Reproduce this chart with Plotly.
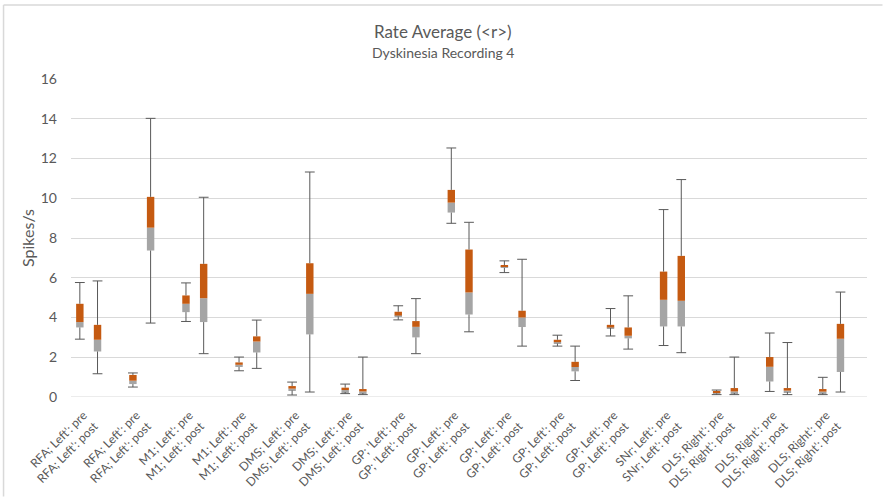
import plotly.graph_objects as go

groups = ["RFA; Left'", "RFA; Left'", "M1; Left'", "M1; Left'", "DMS; Left'", "DMS; Left'",
          "GP; 'Left'", "GP; Left'", "GP; Left'", "GP; Left'", "GP; Left'", "SNr; Left'",
          "DLS; Right'", "DLS; Right'", "DLS; Right'"]
conditions = ["pre", "post"]

mins = [2.91, 1.17, 0.50, 3.72, 3.80, 2.18, 1.32, 1.44, 0.10, 0.25, 0.17, 0.12, 3.88, 2.18, 8.74,
        3.28, 6.26, 2.56, 2.56, 0.83, 3.07, 2.41, 2.59, 2.23, 0.12, 0.12, 0.28, 0.12, 0.12, 0.25]
q1s = [3.50, 2.29, 0.65, 7.37, 4.27, 3.77, 1.51, 2.24, 0.33, 3.15, 0.25, 0.20, 4.05, 3.00, 9.28,
       4.15, 6.50, 3.52, 2.69, 1.29, 3.47, 2.95, 3.55, 3.55, 0.18, 0.20, 0.78, 0.25, 0.20, 1.26]
meds = [3.77, 2.88, 0.82, 8.52, 4.69, 4.97, 1.62, 2.79, 0.42, 5.19, 0.35, 0.28, 4.10, 3.53, 9.78,
        5.26, 6.56, 4.00, 2.76, 1.51, 3.50, 3.08, 4.89, 4.84, 0.24, 0.28, 1.52, 0.32, 0.27, 2.93]
q3s = [4.69, 3.63, 1.11, 10.07, 5.11, 6.70, 1.74, 3.05, 0.55, 6.73, 0.47, 0.40, 4.29, 3.82, 10.42,
       7.42, 6.63, 4.34, 2.88, 1.77, 3.63, 3.50, 6.31, 7.10, 0.30, 0.45, 2.01, 0.45, 0.40, 3.68]
maxs = [5.76, 5.84, 1.21, 14.02, 5.74, 10.05, 2.01, 3.87, 0.75, 11.32, 0.65, 2.01, 4.59, 4.95, 12.53,
        8.79, 6.85, 6.93, 3.11, 2.56, 4.45, 5.09, 9.43, 10.94, 0.35, 2.01, 3.22, 2.74, 0.99, 5.28]

ORANGE = "#c55a11"
GRAY = "#a5a5a5"
WHISK = "#595959"
TXT = "#595959"
GRID = "#d9d9d9"

# positions: three slots per category (pre, post, empty)
xs = []
for gi in range(len(groups)):
    for ci in range(len(conditions)):
        xs.append(3 * gi + ci)

tickvals = [3 * gi + 0.2 for gi in range(len(groups))]
ticktext = [f"{g}: {conditions[0]}<br>{g}: {conditions[1]}" for g in groups]

wx, wy = [], []
for x, lo, a, b, hi in zip(xs, mins, q1s, q3s, maxs):
    wx += [x, x, None, x, x, None]
    wy += [lo, a, None, b, hi, None]

fig = go.Figure()
fig.add_trace(go.Scatter(x=wx, y=wy, mode="lines", line=dict(color=WHISK, width=1),
                         hoverinfo="skip", showlegend=False))
fig.add_trace(go.Scatter(x=xs + xs, y=mins + maxs, mode="markers",
                         marker=dict(symbol="line-ew", size=7, line=dict(color=WHISK, width=1)),
                         hoverinfo="skip", showlegend=False))
fig.add_trace(go.Bar(x=xs, base=q1s, y=[m - q for m, q in zip(meds, q1s)], width=0.42,
                     marker=dict(color=GRAY, line=dict(width=0)), showlegend=False))
fig.add_trace(go.Bar(x=xs, base=meds, y=[q - m for q, m in zip(q3s, meds)], width=0.42,
                     marker=dict(color=ORANGE, line=dict(width=0)), showlegend=False))

L, R, T, B = 71, 15.5, 79, 99.7
W, H = 883, 497
pw = W - L - R
ph = H - T - B

fig.update_layout(
    width=W, height=H,
    margin=dict(l=L, r=R, t=T, b=B, autoexpand=False),
    paper_bgcolor="white", plot_bgcolor="white",
    barmode="overlay",
    font=dict(family="Lato", color=TXT, size=12),
    xaxis=dict(range=[-0.5, 3 * len(groups) - 0.5], tickvals=tickvals, ticktext=ticktext,
               tickangle=-45, showgrid=False, zeroline=False, showline=False,
               ticklabelstandoff=8, automargin=False,
               tickfont=dict(size=12, color=TXT), fixedrange=True),
    yaxis=dict(range=[0, 16], dtick=2, showgrid=True, gridcolor=GRID, gridwidth=1,
               zeroline=False, showline=False, tickfont=dict(size=14, color=TXT),
               ticklabelstandoff=13, automargin=False,
               title=dict(text="Spikes/s", font=dict(size=16, color=TXT), standoff=2)),
    annotations=[
        dict(text="Rate Average (&lt;r&gt;)", xref="paper", yref="paper",
             x=(443 - L) / pw, y=(H - B - 31) / ph, xanchor="center", yanchor="middle",
             showarrow=False, font=dict(size=17, color=TXT)),
        dict(text="Dyskinesia Recording 4", xref="paper", yref="paper",
             x=(443 - L) / pw, y=(H - B - 52) / ph, xanchor="center", yanchor="middle",
             showarrow=False, font=dict(size=14, color=TXT)),
    ],
    shapes=[
        dict(type="line", xref="paper", yref="paper", x0=(3.5 - L) / pw, x1=(883 - L) / pw,
             y0=(H - B - 5) / ph, y1=(H - B - 5) / ph, line=dict(color=GRID, width=1.5)),
        dict(type="line", xref="paper", yref="paper", x0=(3.5 - L) / pw, x1=(3.5 - L) / pw,
             y0=(H - B - 5) / ph, y1=(H - B - 497) / ph, line=dict(color=GRID, width=1.5)),
        dict(type="line", xref="paper", yref="y", x0=0, x1=1, y0=0, y1=0,
             line=dict(color=GRID, width=1)),
    ],
)

fig.write_html("out.html")
